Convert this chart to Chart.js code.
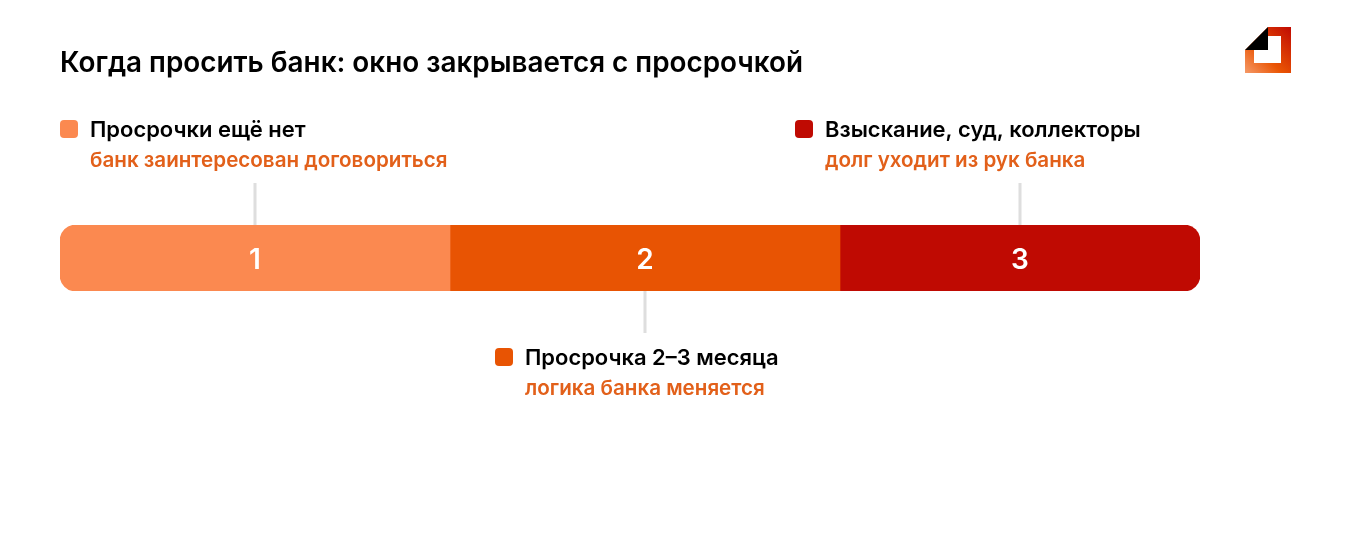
<!DOCTYPE html>
<html lang="ru">
<head>
<meta charset="utf-8">
<title>Когда просить банк</title>
<script src="https://cdn.jsdelivr.net/npm/chart.js@4"></script>
<style>
    html, body { margin: 0; padding: 0; background: #fff; }
    #wrap { position: relative; width: 1350px; height: 540px; }
</style>
</head>
<body>
<div id="wrap"><canvas id="chart" width="1350" height="540"></canvas></div>
<script>
const chartTitle = 'Когда просить банк: окно закрывается с просрочкой';
const stageNumbers = ['1', '2', '3'];
const stageValues = [39, 39, 36];
const stageNames = ['Просрочки ещё нет', 'Просрочка 2–3 месяца', 'Взыскание, суд, коллекторы'];
const stageNotes = ['банк заинтересован договориться', 'логика банка меняется', 'долг уходит из рук банка'];
const stageColors = ['#FB8950', '#E85403', '#BF0A02'];

const FONT = 'Inter, "Noto Sans", sans-serif';
const NOTE_COLOR = '#E2601A';
const LINE_COLOR = '#DEDEDE';

// left edge of each callout's marker, and which side of the bar it sits on
const calloutX = [60, 495, 795];
const calloutBelow = [false, true, false];

function drawLogo(ctx) {
    const grad = ctx.createLinearGradient(1245, 73, 1291, 27);
    grad.addColorStop(0, '#F59A68');
    grad.addColorStop(0.4, '#EA5504');
    grad.addColorStop(1, '#C00A02');
    ctx.fillStyle = grad;
    ctx.beginPath();
    ctx.moveTo(1245, 50);
    ctx.lineTo(1268, 27);
    ctx.lineTo(1291, 27);
    ctx.lineTo(1291, 73);
    ctx.lineTo(1245, 73);
    ctx.closePath();
    ctx.fill();
    ctx.fillStyle = '#fff';
    ctx.fillRect(1254, 50, 27, 13);
    ctx.fillRect(1268, 36, 13, 14);
    ctx.fillStyle = '#000';
    ctx.beginPath();
    ctx.moveTo(1245, 50);
    ctx.lineTo(1268, 27);
    ctx.lineTo(1268, 50);
    ctx.closePath();
    ctx.fill();
}

const calloutsPlugin = {
    id: 'callouts',
    afterDraw(chart) {
        const ctx = chart.ctx;
        const x = chart.scales.x;
        const area = chart.chartArea;
        ctx.save();

        ctx.textBaseline = 'middle';
        ctx.textAlign = 'left';
        ctx.fillStyle = '#000';
        ctx.font = '600 27.85px ' + FONT;
        ctx.fillText(chartTitle, 60, 64);

        let sum = 0;
        stageValues.forEach((v, i) => {
            const mid = x.getPixelForValue(sum + v / 2);
            sum += v;

            // number inside the segment
            ctx.textAlign = 'center';
            ctx.fillStyle = '#fff';
            ctx.font = '600 28px ' + FONT;
            ctx.fillText(stageNumbers[i], mid, (area.top + area.bottom) / 2 + 3);

            // connector
            ctx.fillStyle = LINE_COLOR;
            if (calloutBelow[i]) {
                ctx.fillRect(mid - 1.5, area.bottom, 3, 42);
            } else {
                ctx.fillRect(mid - 1.5, area.top - 42, 3, 42);
            }

            // marker and texts
            const top = calloutBelow[i] ? 348 : 120;
            ctx.fillStyle = stageColors[i];
            ctx.beginPath();
            ctx.roundRect(calloutX[i], top, 18, 18, 4);
            ctx.fill();

            ctx.textAlign = 'left';
            ctx.fillStyle = '#000';
            ctx.font = '600 21.95px ' + FONT;
            ctx.fillText(stageNames[i], calloutX[i] + 30, top + 10);
            ctx.fillStyle = NOTE_COLOR;
            ctx.font = '600 20.6px ' + FONT;
            ctx.fillText(stageNotes[i], calloutX[i] + 30, top + 41);
        });

        drawLogo(ctx);
        ctx.restore();
    }
};

const lastStage = stageValues.length - 1;
const datasets = stageValues.map((v, i) => ({
    label: stageNames[i],
    data: [v],
    backgroundColor: stageColors[i],
    borderWidth: 0,
    borderSkipped: false,
    borderRadius: {
        topLeft: i === 0 ? 16 : 0,
        bottomLeft: i === 0 ? 16 : 0,
        topRight: i === lastStage ? 16 : 0,
        bottomRight: i === lastStage ? 16 : 0
    },
    barPercentage: 1,
    categoryPercentage: 1
}));

new Chart(document.getElementById('chart'), {
    type: 'bar',
    data: { labels: [''], datasets: datasets },
    options: {
        indexAxis: 'y',
        responsive: false,
        animation: false,
        layout: { padding: { left: 60, right: 150, top: 225, bottom: 249 } },
        plugins: { legend: { display: false }, title: { display: false }, tooltip: { enabled: false } },
        scales: {
            x: { stacked: true, display: false, min: 0, max: stageValues.reduce((a, b) => a + b, 0) },
            y: { stacked: true, display: false }
        }
    },
    plugins: [calloutsPlugin]
});
</script>
</body>
</html>
